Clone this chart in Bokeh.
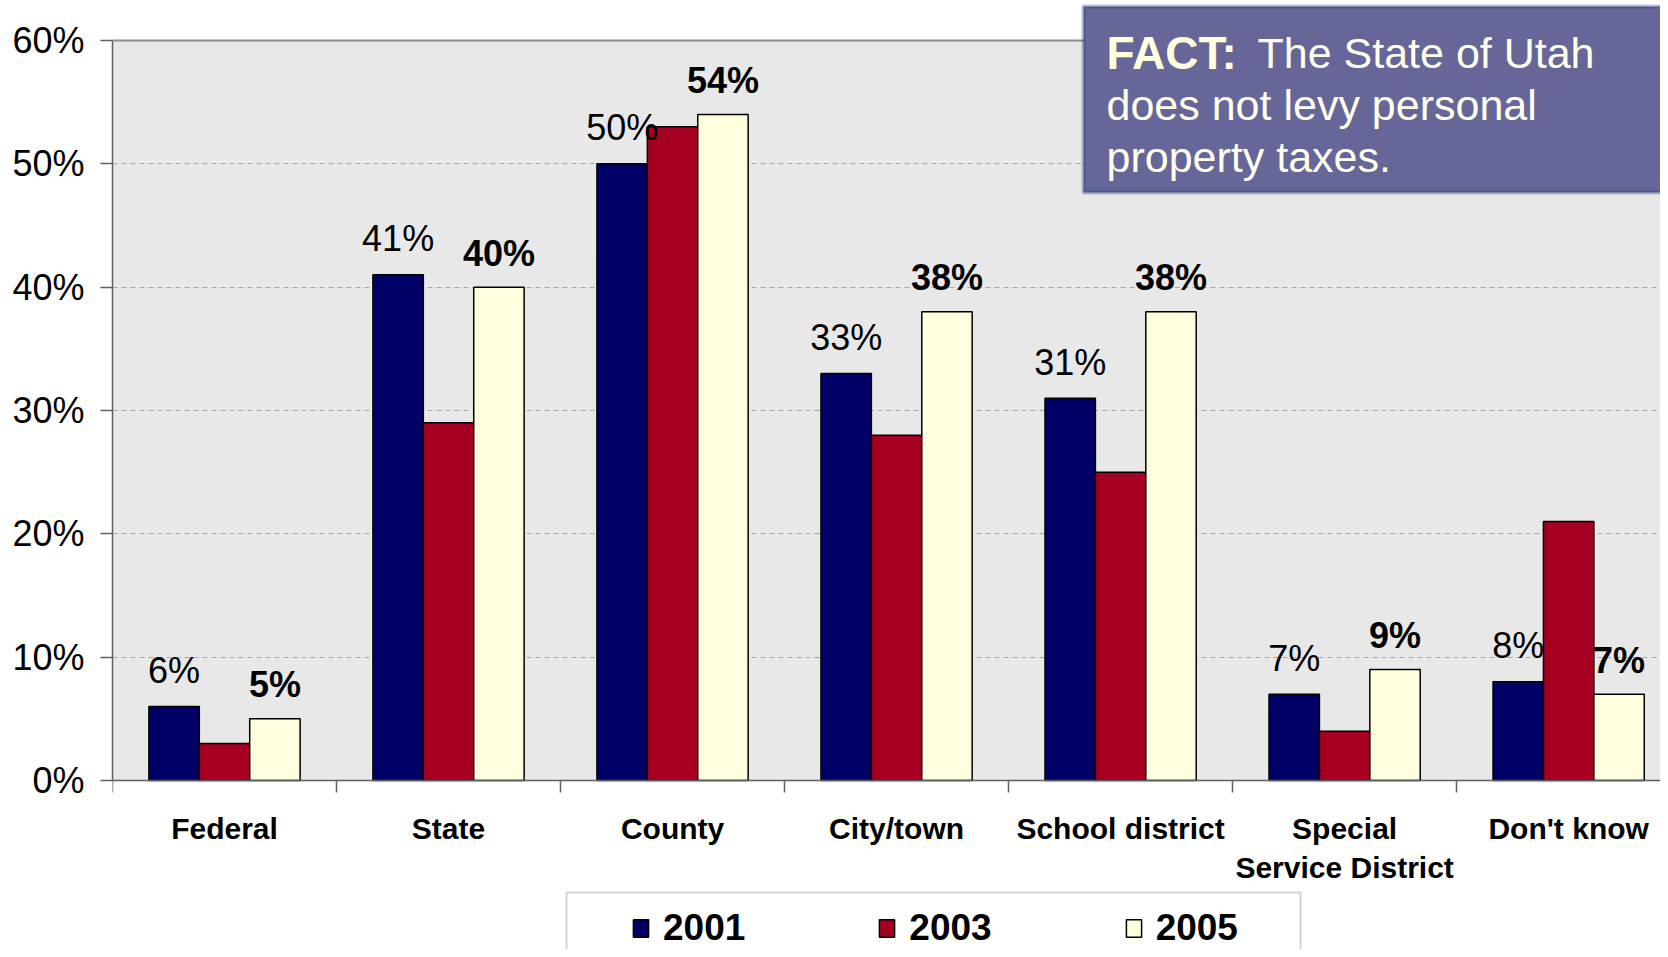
from bokeh.plotting import figure
from bokeh.models import (Range1d, FixedTicker, ColumnDataSource, Legend, LegendItem,
                          BoxAnnotation, Label, Span)
from bokeh.transform import dodge
from bokeh.embed import file_html
from bokeh.resources import INLINE
from bokeh.core.properties import value

# ---------------- data ----------------
categories = ["Federal", "State", "County", "City/town", "School district",
              "Special\nService District", "Don't know"]
years = ["2001", "2003", "2005"]
v2001 = [6, 41, 50, 33, 31, 7, 8]
v2003 = [3, 29, 53, 28, 25, 4, 21]
v2005 = [5, 40, 54, 38, 38, 9, 7]
y_ticks = [0, 10, 20, 30, 40, 50, 60]
y_tick_labels = ["0%", "10%", "20%", "30%", "40%", "50%", "60%"]
fact_bold = "FACT:"
fact_lines = ["The State of Utah", "does not levy personal", "property taxes."]

colors = ["#000066", "#A50021", "#FFFFE0"]
FONT = "Liberation Sans"

pos = [i + 0.5 for i in range(len(categories))]
source = ColumnDataSource(dict(
    x=pos, v2001=v2001, v2003=v2003, v2005=v2005,
    l2001=[f"{v}%" for v in v2001],
    l2005=[f"{v}%" for v in v2005],
))

p = figure(width=1660, height=949,
           x_range=Range1d(0, 6.91), y_range=Range1d(-13.70, 63.24),
           output_backend="svg", toolbar_location=None,
           min_border_left=112, min_border_right=0,
           min_border_top=0, min_border_bottom=0)
p.background_fill_color = "white"
p.border_fill_color = "white"
p.outline_line_color = None

# grey plot area (0%..60%)
p.add_layout(BoxAnnotation(left=0, bottom=0, top=60, fill_color="#E8E8E8",
                           fill_alpha=1.0, line_color=None, level="image"))

bw = 0.225
r1 = p.vbar(x=dodge('x', -bw, range=p.x_range), top='v2001', width=bw, source=source,
            fill_color=colors[0], line_color="black", line_width=1.5)
r2 = p.vbar(x=dodge('x', 0, range=p.x_range), top='v2003', width=bw, source=source,
            fill_color=colors[1], line_color="black", line_width=1.5)
r3 = p.vbar(x=dodge('x', bw, range=p.x_range), top='v2005', width=bw, source=source,
            fill_color=colors[2], line_color="black", line_width=1.5)

p.text(x=dodge('x', -bw, range=p.x_range), y='v2001', text='l2001', source=source,
       text_align="center", text_baseline="alphabetic", y_offset=-36,
       text_font=value(FONT), text_font_size="36px", text_color="black")
p.text(x=dodge('x', bw, range=p.x_range), y='v2005', text='l2005', source=source,
       text_align="center", text_baseline="alphabetic", y_offset=-34,
       text_font=value(FONT), text_font_size="36px", text_font_style="bold",
       text_color="black")

# top border line of plot area
p.add_layout(Span(location=60, dimension="width", line_color="#8C8C8C", line_width=2))

# axes
xa = p.xaxis[0]
xa.fixed_location = 0
xa.ticker = FixedTicker(ticks=pos, minor_ticks=list(range(len(categories) + 1)))
xa.major_label_overrides = {pos[i]: categories[i] for i in range(len(categories))}
xa.major_tick_out = 0
xa.major_tick_in = 0
xa.minor_tick_out = 12
xa.minor_tick_in = 0
xa.minor_tick_line_color = "#606060"
xa.minor_tick_line_width = 1.5
xa.axis_line_color = "#606060"
xa.axis_line_width = 1.5
xa.major_label_text_font = FONT
xa.major_label_text_font_style = "bold"
xa.major_label_text_font_size = "30px"
xa.major_label_text_color = "black"
xa.major_label_standoff = 19

ya = p.yaxis[0]
ya.bounds = (0, 60)
ya.ticker = FixedTicker(ticks=y_ticks)
ya.major_label_overrides = {y_ticks[i]: y_tick_labels[i] for i in range(len(y_ticks))}
ya.major_tick_out = 12
ya.major_tick_in = 0
ya.minor_tick_out = 0
ya.minor_tick_in = 0
ya.major_tick_line_color = "#606060"
ya.major_tick_line_width = 1.5
ya.axis_line_color = "#606060"
ya.axis_line_width = 1.5
ya.major_label_text_font = FONT
ya.major_label_text_font_size = "36px"
ya.major_label_text_color = "black"
ya.major_label_standoff = 16

p.xgrid.visible = False
p.ygrid.ticker = FixedTicker(ticks=y_ticks[1:-1])
p.ygrid.grid_line_color = "#A8A8A8"
p.ygrid.grid_line_dash = "5 4"
p.ygrid.grid_line_width = 1

# legend
legend = Legend(items=[LegendItem(label=years[0], renderers=[r1]),
                       LegendItem(label=years[1], renderers=[r2]),
                       LegendItem(label=years[2], renderers=[r3])],
                orientation="horizontal", location=(519, 0),
                border_line_color=None, background_fill_alpha=0,
                padding=10, spacing=132, label_standoff=13,
                glyph_width=19, glyph_height=22, margin=0,
                label_text_font=FONT, label_text_font_style="bold",
                label_text_font_size="37px", label_text_color="black")
p.add_layout(legend, "center")

p.add_layout(BoxAnnotation(left=566, right=1300, top=892, bottom=965,
                           left_units="canvas", right_units="canvas",
                           top_units="canvas", bottom_units="canvas",
                           fill_color=None, line_color="#707070", line_width=2,
                           level="overlay"))

# FACT box
p.add_layout(BoxAnnotation(left=1083, right=1700, top=6, bottom=192,
                           left_units="canvas", right_units="canvas",
                           top_units="canvas", bottom_units="canvas",
                           fill_color="#666699", fill_alpha=1.0,
                           line_color="#17386B", line_width=4, level="overlay"))
fact_specs = [(1106, 52, fact_bold, "bold", "46px", "#FFFFDD"),
              (1257, 52, fact_lines[0], "normal", "43px", "#FFFFEE"),
              (1106, 104, fact_lines[1], "normal", "43px", "#FFFFEE"),
              (1106, 156, fact_lines[2], "normal", "43px", "#FFFFEE")]
for fx, fy, ftext, fstyle, fsize, fcol in fact_specs:
    p.add_layout(Label(x=fx, y=fy, x_units="canvas", y_units="canvas", text=ftext,
                       text_font=FONT, text_font_style=fstyle, text_font_size=fsize,
                       text_color=fcol, text_baseline="alphabetic",
                       level="overlay"))

open("out.html", "w").write(file_html(p, INLINE))
